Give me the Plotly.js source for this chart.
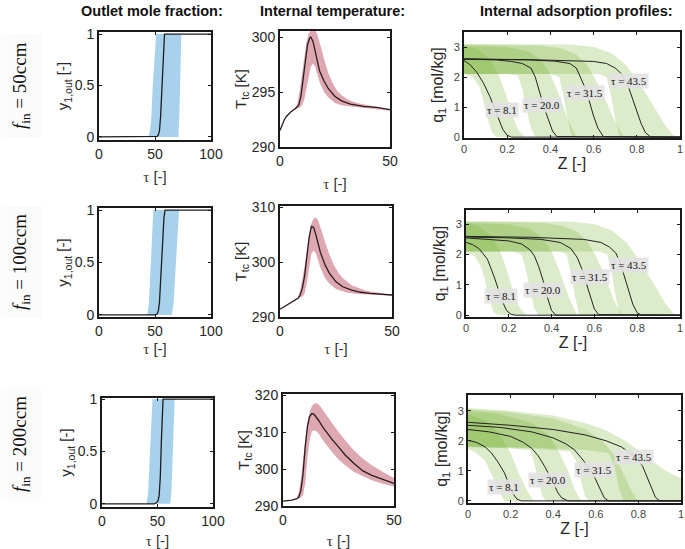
<!DOCTYPE html>
<html>
<head>
<meta charset="utf-8">
<script src="https://cdn.plot.ly/plotly-3.0.1.min.js"></script>
<style>html,body{margin:0;padding:0;background:#fff;}#chart{width:685px;height:549px;}</style>
</head>
<body>
<div id="chart"></div>
<script>
// ---------- DATA ----------
const rowLabels = ['50ccm', '100ccm', '200ccm'];
const colTitles = ['Outlet mole fraction:', 'Internal temperature:', 'Internal adsorption profiles:'];
const profileTaus = ['8.1', '20.0', '31.5', '43.5'];

// Column 1: outlet mole fraction (tau, mean, early bound, late bound)
const y1Tau_50 = [0, 50, 52, 53, 54, 55, 56, 57, 58, 58.5, 100];
const y1Mean_50 = [0, 0, 0.005, 0.02, 0.06, 0.2, 0.45, 0.72, 0.93, 1, 1];
const y1EarlyTau_50 = [0, 43.5, 45, 46.5, 48, 50, 51, 100];
const y1Early_50 = [0, 0, 0.03, 0.15, 0.5, 0.9, 1, 1];
const y1LateTau_50 = [0, 71, 72, 72.8, 73.5, 100];
const y1Late_50 = [0, 0, 0.3, 0.75, 1, 1];

const y1Tau_100 = [0, 50, 52, 53, 54, 55, 56, 57, 58, 59, 100];
const y1Mean_100 = [0, 0, 0.01, 0.04, 0.12, 0.3, 0.55, 0.78, 0.93, 1, 1];
const y1EarlyTau_100 = [0, 43, 44.5, 46, 47.5, 48.5, 100];
const y1Early_100 = [0, 0, 0.1, 0.45, 0.85, 1, 1];
const y1LateTau_100 = [0, 65, 66.5, 68.5, 70.5, 71.5, 100];
const y1Late_100 = [0, 0, 0.1, 0.45, 0.85, 1, 1];

const y1Tau_200 = [0, 47, 49, 50.5, 51.5, 52.5, 53.5, 54.5, 55, 100];
const y1Mean_200 = [0, 0, 0.01, 0.03, 0.08, 0.25, 0.6, 0.92, 1, 1];
const y1EarlyTau_200 = [0, 40, 41.5, 43, 44.5, 45.5, 100];
const y1Early_200 = [0, 0, 0.1, 0.45, 0.85, 1, 1];
const y1LateTau_200 = [0, 61.5, 62.5, 63.5, 64.5, 65.5, 100];
const y1Late_200 = [0, 0, 0.1, 0.45, 0.85, 1, 1];

// Column 2: internal temperature (tau, mean, upper, lower)
const tTau_50 = [0, 1, 2, 3, 5, 7, 8.5, 9.5, 10.5, 11.5, 12.5, 13.5, 14, 15, 16, 17, 18, 20, 22, 25, 28, 32, 38, 44, 50];
const tMean_50 = [291.5, 292.1, 292.5, 292.8, 293.2, 293.5, 293.8, 294.6, 296.2, 298.0, 299.3, 299.9, 300.0, 299.6, 298.6, 297.6, 296.9, 296.0, 295.3, 294.6, 294.2, 293.9, 293.7, 293.6, 293.4];
const tUpTau_50 = [0, 1, 2, 3, 5, 7, 8, 9, 10, 11, 12, 13, 14, 15, 16, 17, 18, 19, 20, 22, 24, 26, 28, 31, 35, 40, 45, 50];
const tUp_50 = [291.5, 292.1, 292.5, 292.8, 293.2, 293.5, 294.0, 295.2, 296.8, 298.3, 299.5, 300.3, 300.6, 300.7, 300.6, 300.2, 299.6, 298.8, 298.0, 296.7, 295.8, 295.1, 294.7, 294.3, 294.0, 293.8, 293.6, 293.4];
const tLoTau_50 = [0, 1, 2, 3, 5, 7, 8, 9, 10, 11, 12, 13, 14, 15, 16, 17, 18, 20, 22, 25, 28, 31, 35, 40, 45, 50];
const tLo_50 = [291.5, 292.1, 292.5, 292.8, 293.2, 293.4, 293.5, 293.6, 293.8, 294.3, 295.3, 296.5, 297.3, 297.6, 297.3, 296.6, 295.9, 295.0, 294.5, 294.0, 293.8, 293.7, 293.6, 293.5, 293.4, 293.3];

const tTau_100 = [0, 2, 4, 6, 8, 9, 10, 11, 12, 13, 14, 15, 16, 17, 18, 20, 22, 25, 28, 32, 36, 40, 45, 50];
const tMean_100 = [291.4, 291.9, 292.4, 292.9, 293.4, 294.0, 295.3, 297.5, 301.0, 304.5, 306.5, 306.3, 305.0, 303.3, 301.8, 299.6, 298.0, 296.4, 295.5, 294.9, 294.5, 294.3, 294.1, 294.0];
const tUpTau_100 = [0, 2, 4, 6, 8, 9, 10, 11, 12, 13, 14, 15, 16, 17, 18, 19, 20, 22, 24, 26, 28, 32, 38, 45, 50];
const tUp_100 = [291.4, 291.9, 292.4, 292.9, 293.5, 294.8, 296.8, 299.3, 302.3, 305.0, 307.0, 307.9, 308.1, 307.6, 306.5, 305.2, 303.8, 301.4, 299.5, 298.1, 297.1, 295.8, 294.8, 294.3, 294.0];
const tLoTau_100 = [0, 2, 4, 6, 8, 9, 10, 11, 12, 13, 14, 15, 16, 17, 18, 20, 22, 25, 30, 35, 40, 45, 50];
const tLo_100 = [291.4, 291.9, 292.4, 292.9, 293.3, 293.5, 293.7, 294.3, 296.3, 299.2, 301.5, 302.1, 301.6, 300.3, 299.0, 297.2, 296.1, 295.1, 294.4, 294.2, 294.1, 294.0, 293.9];

const tTau_200 = [0, 2, 4, 6, 7, 8, 9, 10, 11, 12, 13, 14, 15, 16, 18, 20, 22, 25, 28, 32, 36, 40, 45, 50];
const tMean_200 = [291.3, 291.4, 291.6, 291.9, 292.3, 294.0, 298.5, 306.0, 311.5, 314.2, 315.0, 314.8, 314.1, 313.2, 311.3, 309.6, 308.1, 306.0, 303.8, 301.5, 299.5, 298.3, 297.1, 296.1];
const tUpTau_200 = [0, 2, 4, 6, 7, 8, 9, 10, 11, 12, 13, 14, 15, 16, 17, 18, 20, 22, 25, 28, 32, 36, 40, 45, 50];
const tUp_200 = [291.3, 291.4, 291.6, 292.0, 293.5, 297.0, 302.5, 308.5, 312.8, 315.5, 317.0, 317.7, 317.8, 317.5, 316.8, 316.0, 314.2, 312.5, 310.0, 307.8, 305.0, 302.8, 301.0, 299.2, 297.6];
const tLoTau_200 = [0, 2, 4, 6, 7, 8, 9, 10, 11, 12, 13, 14, 15, 16, 18, 20, 22, 25, 28, 32, 36, 40, 45, 50];
const tLo_200 = [291.3, 291.4, 291.6, 291.9, 292.0, 292.2, 293.0, 296.0, 303.0, 308.0, 310.2, 310.5, 310.2, 309.6, 307.8, 306.2, 304.7, 302.6, 301.0, 299.2, 298.0, 297.0, 296.0, 295.3];

// Column 3: adsorption profiles q1(Z) — mean, lower, upper for tau = 8.1, 20.0, 31.5, 43.5
// 50 ccm
const qZ_50_8 = [0, 0.03, 0.06, 0.09, 0.12, 0.14, 0.16, 0.18, 0.2, 0.22, 1];
const qM_50_8 = [2.55, 2.4, 2.15, 1.8, 1.35, 1.0, 0.6, 0.25, 0.06, 0, 0];
const qLoZ_50_8 = [0, 0.04, 0.07, 0.09, 0.11, 0.13, 0.15, 1];
const qLo_50_8 = [2.1, 2.0, 1.7, 1.2, 0.6, 0.15, 0, 0];
const qHiZ_50_8 = [0, 0.06, 0.12, 0.16, 0.19, 0.22, 0.25, 0.28, 1];
const qHi_50_8 = [3.05, 2.95, 2.6, 2.1, 1.5, 0.8, 0.25, 0, 0];
const qZ_50_20 = [0, 0.15, 0.22, 0.27, 0.31, 0.33, 0.35, 0.37, 0.39, 0.41, 0.43, 1];
const qM_50_20 = [2.6, 2.57, 2.52, 2.45, 2.3, 2.0, 1.5, 1.0, 0.6, 0.2, 0.02, 0];
const qLoZ_50_20 = [0, 0.2, 0.25, 0.27, 0.29, 0.31, 0.33, 1];
const qLo_50_20 = [2.1, 2.1, 2.05, 1.6, 0.9, 0.3, 0, 0];
const qHiZ_50_20 = [0, 0.2, 0.3, 0.36, 0.4, 0.44, 0.48, 0.52, 1];
const qHi_50_20 = [3.05, 3.0, 2.85, 2.55, 2.1, 1.4, 0.6, 0, 0];
const qZ_50_31 = [0, 0.3, 0.42, 0.49, 0.52, 0.54, 0.56, 0.58, 0.6, 0.62, 0.645, 1];
const qM_50_31 = [2.6, 2.57, 2.53, 2.45, 2.3, 2.0, 1.65, 1.2, 0.7, 0.3, 0.02, 0];
const qLoZ_50_31 = [0, 0.4, 0.44, 0.46, 0.48, 0.5, 1];
const qLo_50_31 = [2.1, 2.1, 2.0, 1.4, 0.6, 0, 0];
const qHiZ_50_31 = [0, 0.35, 0.45, 0.52, 0.57, 0.61, 0.65, 0.7, 0.74, 1];
const qHi_50_31 = [3.08, 3.05, 2.95, 2.75, 2.4, 1.9, 1.3, 0.5, 0, 0];
const qZ_50_43 = [0, 0.3, 0.6, 0.66, 0.7, 0.73, 0.76, 0.78, 0.8, 0.82, 0.84, 0.865, 1];
const qM_50_43 = [2.6, 2.58, 2.52, 2.45, 2.3, 2.1, 1.7, 1.3, 0.85, 0.45, 0.15, 0, 0];
const qLoZ_50_43 = [0, 0.62, 0.66, 0.68, 0.7, 0.72, 1];
const qLo_50_43 = [2.1, 2.1, 2.0, 1.4, 0.6, 0, 0];
const qHiZ_50_43 = [0, 0.5, 0.6, 0.68, 0.75, 0.82, 0.88, 0.93, 0.97, 1];
const qHi_50_43 = [3.1, 3.08, 3.0, 2.8, 2.4, 1.7, 1.0, 0.4, 0.05, 0];
// 100 ccm
const qZ_100_8 = [0, 0.03, 0.06, 0.1, 0.13, 0.15, 0.17, 0.19, 0.21, 0.23, 1];
const qM_100_8 = [2.4, 2.33, 2.2, 1.85, 1.3, 0.9, 0.45, 0.15, 0.03, 0, 0];
const qLoZ_100_8 = [0, 0.04, 0.07, 0.09, 0.11, 0.13, 0.15, 1];
const qLo_100_8 = [2.05, 1.95, 1.6, 1.1, 0.5, 0.1, 0, 0];
const qHiZ_100_8 = [0, 0.06, 0.12, 0.16, 0.19, 0.22, 0.25, 0.28, 1];
const qHi_100_8 = [3.05, 2.95, 2.6, 2.1, 1.5, 0.8, 0.25, 0, 0];
const qZ_100_20 = [0, 0.1, 0.2, 0.26, 0.3, 0.32, 0.34, 0.36, 0.38, 0.4, 0.42, 1];
const qM_100_20 = [2.55, 2.5, 2.45, 2.35, 2.15, 1.95, 1.6, 1.15, 0.6, 0.15, 0, 0];
const qLoZ_100_20 = [0, 0.22, 0.26, 0.28, 0.3, 0.32, 0.34, 1];
const qLo_100_20 = [2.1, 2.1, 2.0, 1.5, 0.8, 0.2, 0, 0];
const qHiZ_100_20 = [0, 0.2, 0.3, 0.36, 0.4, 0.44, 0.48, 0.52, 1];
const qHi_100_20 = [3.05, 3.0, 2.85, 2.55, 2.1, 1.4, 0.6, 0, 0];
const qZ_100_31 = [0, 0.2, 0.35, 0.44, 0.49, 0.52, 0.54, 0.56, 0.58, 0.6, 0.62, 1];
const qM_100_31 = [2.58, 2.55, 2.5, 2.4, 2.2, 1.9, 1.55, 1.1, 0.6, 0.2, 0.02, 0];
const qLoZ_100_31 = [0, 0.44, 0.47, 0.49, 0.51, 0.53, 1];
const qLo_100_31 = [2.1, 2.1, 2.0, 1.4, 0.6, 0, 0];
const qHiZ_100_31 = [0, 0.35, 0.45, 0.52, 0.57, 0.61, 0.65, 0.69, 0.73, 1];
const qHi_100_31 = [3.08, 3.05, 2.95, 2.75, 2.4, 1.9, 1.3, 0.5, 0, 0];
const qZ_100_43 = [0, 0.3, 0.55, 0.63, 0.67, 0.7, 0.72, 0.74, 0.76, 0.78, 0.8, 0.82, 1];
const qM_100_43 = [2.6, 2.57, 2.5, 2.4, 2.25, 2.05, 1.75, 1.3, 0.8, 0.35, 0.08, 0, 0];
const qLoZ_100_43 = [0, 0.62, 0.66, 0.68, 0.7, 0.72, 1];
const qLo_100_43 = [2.1, 2.1, 2.0, 1.4, 0.6, 0, 0];
const qHiZ_100_43 = [0, 0.5, 0.6, 0.68, 0.75, 0.82, 0.88, 0.93, 0.97, 1];
const qHi_100_43 = [3.1, 3.08, 3.0, 2.8, 2.4, 1.7, 1.0, 0.4, 0.05, 0];
// 200 ccm
const qZ_200_8 = [0, 0.04, 0.08, 0.11, 0.14, 0.17, 0.19, 0.21, 0.23, 0.25, 1];
const qM_200_8 = [2.02, 1.95, 1.8, 1.6, 1.3, 0.95, 0.6, 0.25, 0.06, 0, 0];
const qLoZ_200_8 = [0, 0.04, 0.08, 0.11, 0.14, 0.17, 1];
const qLo_200_8 = [1.75, 1.6, 1.35, 0.9, 0.4, 0, 0];
const qHiZ_200_8 = [0, 0.08, 0.14, 0.2, 0.24, 0.28, 0.31, 1];
const qHi_200_8 = [2.9, 2.7, 2.3, 1.6, 0.9, 0.3, 0, 0];
const qZ_200_20 = [0, 0.1, 0.2, 0.26, 0.3, 0.33, 0.36, 0.38, 0.4, 0.42, 0.44, 0.47, 1];
const qM_200_20 = [2.38, 2.3, 2.15, 1.95, 1.75, 1.5, 1.15, 0.9, 0.6, 0.3, 0.1, 0, 0];
const qLoZ_200_20 = [0, 0.2, 0.29, 0.31, 0.33, 0.35, 0.37, 1];
const qLo_200_20 = [1.8, 1.75, 1.7, 1.3, 0.7, 0.15, 0, 0];
const qHiZ_200_20 = [0, 0.15, 0.3, 0.38, 0.43, 0.47, 0.5, 0.53, 1];
const qHi_200_20 = [3.0, 2.9, 2.6, 2.2, 1.6, 1.0, 0.4, 0, 0];
const qZ_200_31 = [0, 0.15, 0.3, 0.4, 0.46, 0.5, 0.53, 0.56, 0.58, 0.6, 0.62, 0.64, 0.66, 1];
const qM_200_31 = [2.52, 2.45, 2.3, 2.1, 1.9, 1.7, 1.45, 1.2, 1.0, 0.7, 0.37, 0.1, 0, 0];
const qLoZ_200_31 = [0, 0.3, 0.48, 0.51, 0.53, 0.55, 0.57, 1];
const qLo_200_31 = [1.8, 1.75, 1.65, 1.3, 0.7, 0.15, 0, 0];
const qHiZ_200_31 = [0, 0.2, 0.4, 0.55, 0.63, 0.69, 0.73, 0.77, 0.8, 1];
const qHi_200_31 = [3.05, 2.95, 2.75, 2.4, 2.0, 1.5, 0.9, 0.3, 0, 0];
const qZ_200_43 = [0, 0.2, 0.4, 0.55, 0.65, 0.72, 0.76, 0.79, 0.82, 0.84, 0.86, 0.88, 0.9, 1];
const qM_200_43 = [2.62, 2.52, 2.38, 2.2, 2.0, 1.8, 1.6, 1.45, 1.15, 0.8, 0.45, 0.12, 0, 0];
const qLoZ_200_43 = [0, 0.3, 0.55, 0.66, 0.69, 0.71, 0.73, 1];
const qLo_200_43 = [1.82, 1.78, 1.7, 1.6, 1.1, 0.4, 0, 0];
const qHiZ_200_43 = [0, 0.2, 0.4, 0.55, 0.65, 0.75, 0.85, 0.93, 1];
const qHi_200_43 = [3.1, 3.0, 2.85, 2.6, 2.35, 1.95, 1.4, 1.0, 0.75];

// ---------- BUILD ----------
const BLUE = 'rgb(168,210,235)';
const PINK = 'rgb(222,168,178)';
const GREEN = 'rgba(125,180,60,0.27)';
const INK = '#1e1e1e';

const col1 = [
  {tau: y1Tau_50, m: y1Mean_50, eT: y1EarlyTau_50, e: y1Early_50, lT: y1LateTau_50, l: y1Late_50},
  {tau: y1Tau_100, m: y1Mean_100, eT: y1EarlyTau_100, e: y1Early_100, lT: y1LateTau_100, l: y1Late_100},
  {tau: y1Tau_200, m: y1Mean_200, eT: y1EarlyTau_200, e: y1Early_200, lT: y1LateTau_200, l: y1Late_200}
];
const col2 = [
  {tau: tTau_50, m: tMean_50, uT: tUpTau_50, u: tUp_50, lT: tLoTau_50, l: tLo_50},
  {tau: tTau_100, m: tMean_100, uT: tUpTau_100, u: tUp_100, lT: tLoTau_100, l: tLo_100},
  {tau: tTau_200, m: tMean_200, uT: tUpTau_200, u: tUp_200, lT: tLoTau_200, l: tLo_200}
];
const col3 = [
  [
    [qZ_50_8, qM_50_8, qLoZ_50_8, qLo_50_8, qHiZ_50_8, qHi_50_8],
    [qZ_50_20, qM_50_20, qLoZ_50_20, qLo_50_20, qHiZ_50_20, qHi_50_20],
    [qZ_50_31, qM_50_31, qLoZ_50_31, qLo_50_31, qHiZ_50_31, qHi_50_31],
    [qZ_50_43, qM_50_43, qLoZ_50_43, qLo_50_43, qHiZ_50_43, qHi_50_43]
  ],
  [
    [qZ_100_8, qM_100_8, qLoZ_100_8, qLo_100_8, qHiZ_100_8, qHi_100_8],
    [qZ_100_20, qM_100_20, qLoZ_100_20, qLo_100_20, qHiZ_100_20, qHi_100_20],
    [qZ_100_31, qM_100_31, qLoZ_100_31, qLo_100_31, qHiZ_100_31, qHi_100_31],
    [qZ_100_43, qM_100_43, qLoZ_100_43, qLo_100_43, qHiZ_100_43, qHi_100_43]
  ],
  [
    [qZ_200_8, qM_200_8, qLoZ_200_8, qLo_200_8, qHiZ_200_8, qHi_200_8],
    [qZ_200_20, qM_200_20, qLoZ_200_20, qLo_200_20, qHiZ_200_20, qHi_200_20],
    [qZ_200_31, qM_200_31, qLoZ_200_31, qLo_200_31, qHiZ_200_31, qHi_200_31],
    [qZ_200_43, qM_200_43, qLoZ_200_43, qLo_200_43, qHiZ_200_43, qHi_200_43]
  ]
];
// label positions (Z, q) for each row
const labelPos = [
  [[0.175, 0.9], [0.36, 1.07], [0.56, 1.47], [0.765, 1.87]],
  [[0.165, 0.64], [0.36, 0.82], [0.58, 1.26], [0.76, 1.65]],
  [[0.17, 0.45], [0.377, 0.7], [0.59, 1.03], [0.78, 1.45]]
];

// pixel boxes [left, right, top, bottom]
const boxes = [
  [[99, 211, 32, 140], [280, 390, 31, 147], [464, 680, 32, 138]],
  [[99, 211, 208, 317], [280, 392, 206, 317], [466, 680, 210, 317]],
  [[102, 213, 398, 507], [283, 394, 394, 506], [468, 681, 395, 503]]
];
const yRanges = [
  [[-0.03, 1.02], [290, 300.55], [-0.03, 3.5]],
  [[-0.02, 1.02], [290, 310.2], [-0.06, 3.47]],
  [[-0.03, 1.01], [290, 320.3], [-0.07, 3.53]]
];
const tempTicks = [[290, 295, 300], [290, 300, 310], [290, 300, 310, 320]];
const tauStandoff = [11, 6, 10];

const W = 685, H = 549;
const traces = [];
const layout = {
  width: W, height: H, margin: {l: 0, r: 0, t: 0, b: 0},
  paper_bgcolor: '#fff', plot_bgcolor: '#fff', showlegend: false, hovermode: false,
  font: {family: 'Liberation Sans, Arial, sans-serif', color: '#262626'},
  annotations: [], shapes: []
};

function axKey(k, a) { return k === 1 ? a + 'axis' : a + 'axis' + k; }
function ref(k, a) { return k === 1 ? a : a + k; }

for (let r = 0; r < 3; r++) {
  for (let c = 0; c < 3; c++) {
    const k = r * 3 + c + 1;
    const xr = ref(k, 'x'), yr = ref(k, 'y');
    const b = boxes[r][c];
    const base = {
      showline: true, mirror: 'ticks', linecolor: '#1a1a1a', linewidth: 2,
      ticks: 'inside', ticklen: 3, tickwidth: 1, tickcolor: '#1a1a1a',
      showgrid: false, zeroline: false, fixedrange: true
    };
    const xa = Object.assign({}, base, {
      anchor: yr, domain: [b[0] / W, b[1] / W]
    });
    const ya = Object.assign({}, base, {
      anchor: xr, domain: [1 - b[3] / H, 1 - b[2] / H], range: yRanges[r][c]
    });
    const tauTitle = {text: '<span style="font-family:Liberation Serif">τ</span> [-]', font: {size: 15, color: '#333'}, standoff: tauStandoff[r]};
    if (c === 0) {
      const d = col1[r];
      traces.push({x: d.lT, y: d.l, xaxis: xr, yaxis: yr, mode: 'lines', line: {width: 0, color: BLUE}, hoverinfo: 'skip'});
      traces.push({x: d.eT, y: d.e, xaxis: xr, yaxis: yr, mode: 'lines', line: {width: 0, color: BLUE}, fill: 'tonexty', fillcolor: BLUE, hoverinfo: 'skip'});
      traces.push({x: d.tau, y: d.m, xaxis: xr, yaxis: yr, mode: 'lines', line: {width: 1.3, color: INK}});
      Object.assign(xa, {range: [0, 100], tickvals: [0, 50, 100], tickfont: {size: 14}, title: tauTitle});
      Object.assign(ya, {tickvals: [0, 0.5, 1], ticktext: ['0', '0.5', '1'], tickfont: {size: 14},
        title: {text: 'y<sub>1,out</sub> [-]', font: {size: 15}, standoff: 2}});
    } else if (c === 1) {
      const d = col2[r];
      traces.push({x: d.lT, y: d.l, xaxis: xr, yaxis: yr, mode: 'lines', line: {width: 0, color: PINK}, hoverinfo: 'skip'});
      traces.push({x: d.uT, y: d.u, xaxis: xr, yaxis: yr, mode: 'lines', line: {width: 0, color: PINK}, fill: 'tonexty', fillcolor: PINK, hoverinfo: 'skip'});
      traces.push({x: d.tau, y: d.m, xaxis: xr, yaxis: yr, mode: 'lines', line: {width: 1.3, color: '#2a1a1e'}});
      Object.assign(xa, {range: [0, 50], tickvals: [0, 50], tickfont: {size: 14}, title: tauTitle});
      Object.assign(ya, {tickvals: tempTicks[r], tickfont: {size: 14},
        title: {text: 'T<sub>tc</sub> [K]', font: {size: 15}, standoff: 2}});
    } else {
      const sets = col3[r];
      sets.forEach(s => {
        traces.push({x: s[2], y: s[3], xaxis: xr, yaxis: yr, mode: 'lines', line: {width: 0, color: GREEN}, hoverinfo: 'skip'});
        traces.push({x: s[4], y: s[5], xaxis: xr, yaxis: yr, mode: 'lines', line: {width: 0, color: GREEN}, fill: 'tonexty', fillcolor: GREEN, hoverinfo: 'skip'});
      });
      sets.forEach(s => {
        traces.push({x: s[0], y: s[1], xaxis: xr, yaxis: yr, mode: 'lines', line: {width: 1, color: '#222'}});
      });
      profileTaus.forEach((t, i) => {
        layout.annotations.push({
          xref: xr, yref: yr, x: labelPos[r][i][0], y: labelPos[r][i][1],
          text: 'τ = ' + t, showarrow: false, bgcolor: 'rgba(226,226,226,0.9)', borderpad: 1,
          font: {family: 'Liberation Serif, DejaVu Serif, serif', size: 11, color: '#111'}
        });
      });
      Object.assign(xa, {range: [0, 1], tickvals: [0, 0.2, 0.4, 0.6, 0.8, 1], ticktext: ['0', '0.2', '0.4', '0.6', '0.8', '1'],
        tickfont: {size: 11, color: '#444'}, title: {text: 'Z [-]', font: {size: 16}, standoff: 4}});
      Object.assign(ya, {tickvals: [0, 1, 2, 3], tickfont: {size: 11, color: '#444'},
        title: {text: 'q<sub>1</sub> [mol/kg]', font: {size: 16}, standoff: 6}});
    }
    layout[axKey(k, 'x')] = xa;
    layout[axKey(k, 'y')] = ya;
  }
}

// column titles
const colTitleX = [152, 332, 576];
colTitles.forEach((t, i) => {
  layout.annotations.push({
    xref: 'paper', yref: 'paper', x: colTitleX[i] / W, y: 1 - 11 / H, xanchor: 'center', yanchor: 'middle',
    text: '<b>' + t + '</b>', showarrow: false, font: {size: 14.5, color: '#111'}
  });
});
// row labels
const rowLabelY = [86, 262, 444];
rowLabels.forEach((t, i) => {
  layout.annotations.push({
    xref: 'paper', yref: 'paper', x: 21 / W, y: 1 - rowLabelY[i] / H, xanchor: 'center', yanchor: 'middle',
    textangle: -90, text: '<i>f</i><sub>in</sub> = ' + t, showarrow: false,
    bgcolor: '#fbfbfb', borderpad: 8,
    font: {family: 'Liberation Serif, DejaVu Serif, serif', size: 19, color: '#111'}
  });
});

Plotly.newPlot('chart', traces, layout, {staticPlot: true, displayModeBar: false});
</script>
</body>
</html>
